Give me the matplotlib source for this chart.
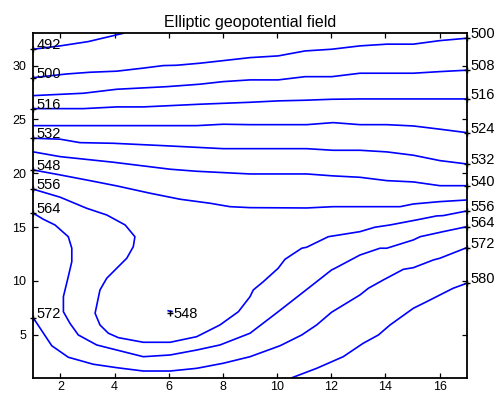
"""Elliptic geopotential field: labelled contour lines (MATLAB clabel look).

Contour vertices are read off the reference picture, one array per level.
"""

import matplotlib
matplotlib.use("Agg")
import matplotlib.pyplot as plt

plt.rcParams["font.family"] = ["Liberation Sans", "DejaVu Sans"]

# ── data: contour lines (x, y) per level ──────────────────────────────────────

c492_x = [1.00, 1.99, 3.03, 4.32]
c492_y = [31.52, 31.83, 32.23, 33.00]

c500_x = [1, 2.23, 3.09, 4.08, 5.01, 5.80, 6.29, 7.15, 8.01, 9.00, 10.04, 11.03,
          12.02, 13.06, 14.05, 15.03, 16.01, 17]
c500_y = [28.88, 29.22, 29.38, 29.48, 29.75, 30.00, 30.03, 30.22, 30.46, 30.74,
          30.90, 31.36, 31.52, 31.83, 31.99, 31.99, 32.32, 32.54]

c508_x = [1, 2.85, 4.08, 5.92, 7.15, 8.01, 9.00, 10.04, 11.03, 12.02, 13.06,
          14.05, 15.03, 16.01, 17]
c508_y = [27.21, 27.43, 27.80, 28.04, 28.27, 28.51, 28.67, 28.67, 28.97, 28.97,
          29.29, 29.29, 29.29, 29.44, 29.57]

c516_x = [1, 2.85, 4.08, 5.06, 7.15, 9.00, 10.04, 11.03, 12.02, 13.06, 17]
c516_y = [26.00, 26.00, 26.16, 26.16, 26.41, 26.59, 26.72, 26.78, 26.87, 26.90, 26.90]

c524_x = [1, 7.03, 8.01, 9.00, 11.09, 12.07, 13.06, 14.05, 15.03, 16.01, 17]
c524_y = [24.42, 24.42, 24.55, 24.51, 24.51, 24.70, 24.51, 24.51, 24.39, 24.09, 23.77]

c532_x = [1, 1.99, 2.72, 3.95, 5.80, 8.01, 9.00, 11.09, 12.07, 13.06, 14.05,
          15.03, 16.01, 17]
c532_y = [23.25, 23.16, 22.84, 22.78, 22.56, 22.28, 22.28, 22.28, 22.13, 22.13,
          21.98, 21.67, 21.17, 20.86]

c540_x = [1, 1.99, 3.95, 6.05, 7.03, 9.00, 11.09, 12.07, 13.06, 14.05, 15.03, 16.01, 17]
c540_y = [21.98, 21.54, 21.02, 20.37, 20.18, 19.93, 19.93, 19.75, 19.62, 19.31,
          19.19, 18.84, 18.84]

c548_x = [1, 1.99, 3.09, 4.08, 5.31, 6.42, 7.52, 8.26, 9.00, 11.09, 12.07, 14.54,
          15.03, 16.01, 17]
c548_y = [20.30, 19.84, 19.31, 18.82, 18.14, 17.58, 17.21, 16.89, 16.80, 16.77,
          16.89, 16.89, 17.14, 17.36, 17.51]

# tiny closed 548 contour around the local low
c548b_x = [5.98, 6.05, 6.12]
c548b_y = [7.22, 7.17, 7.15]

c556_x = [1, 1.99, 2.97, 3.71, 4.39, 4.75, 4.69, 4.45, 4.08, 3.71, 3.46, 3.28,
          3.46, 3.77, 4.14, 5.06, 6.05, 7.03, 7.89, 8.57, 9.00, 9.12, 9.49, 10.04,
          10.29, 10.91, 11.09, 11.89, 12.14, 13.06, 13.61, 14.17, 15.15, 15.89,
          16.13, 17.00]
c556_y = [18.51, 17.77, 16.74, 16.12, 15.19, 14.10, 13.17, 12.10, 11.17, 10.24,
          9.15, 6.99, 5.90, 5.13, 4.72, 4.29, 4.29, 4.81, 5.90, 7.13, 8.53, 9.15,
          9.92, 11.17, 12.00, 13.03, 13.12, 14.10, 14.20, 14.57, 14.98, 15.19,
          15.66, 16.03, 16.06, 16.49]

c564_x = [1, 1.37, 1.80, 2.29, 2.42, 2.42, 2.29, 2.11, 2.11, 2.35, 2.66, 3.34,
          4.08, 5.06, 6.05, 7.03, 7.89, 9.00, 10.04, 11.15, 12.01, 12.14, 13.06,
          13.80, 14.05, 15.03, 15.28, 16.13, 17]
c564_y = [16.28, 15.72, 15.19, 14.10, 13.03, 11.78, 10.39, 8.53, 7.13, 6.06, 4.97,
          4.04, 3.57, 2.95, 3.11, 3.57, 4.04, 5.13, 7.13, 9.31, 11.01, 11.17, 12.40,
          13.03, 13.03, 13.80, 14.10, 14.57, 15.03]

c572_x = [1, 1.68, 2.29, 3.21, 4.08, 5.06, 6.05, 7.03, 8.01, 9.00, 10.11, 10.91,
          11.46, 12.01, 13.06, 13.37, 13.92, 14.66, 15.03, 15.77, 16.01, 17]
c572_y = [6.55, 3.97, 2.90, 2.25, 1.93, 1.62, 1.62, 1.87, 2.34, 2.95, 3.97, 4.97,
          5.90, 7.08, 8.69, 9.31, 10.08, 11.07, 11.22, 11.94, 12.10, 13.08]

c580_x = [10.55, 11.46, 12.44, 13.18, 13.74, 14.17, 15.03, 15.52, 16.13, 16.50, 17]
c580_y = [1.00, 1.87, 2.95, 4.20, 4.97, 5.90, 7.45, 8.06, 8.84, 9.31, 9.77]

# ── data: clabel positions ───────────────────────────────────────────────────

label_text = ["492", "500", "516", "532", "548", "556", "564", "572",
              "500", "508", "516", "524", "532", "540", "556", "564", "572", "580",
              "548"]
label_x = [1, 1, 1, 1, 1, 1, 1, 1,
           17, 17, 17, 17, 17, 17, 17, 17, 17, 17,
           6.05]
label_y = [31.52, 28.88, 26.00, 23.25, 20.30, 18.51, 16.28, 6.55,
           32.54, 29.57, 26.90, 23.77, 20.86, 18.84, 16.49, 15.03, 13.08, 9.77,
           6.99]

x_ticks = [2, 4, 6, 8, 10, 12, 14, 16]
y_ticks = [5, 10, 15, 20, 25, 30]


def main():
    fig = plt.figure(figsize=(4.99, 3.94), dpi=100)
    ax = fig.add_axes([0.0668, 0.0414, 0.8685, 0.8741])

    lines = [
        (c492_x, c492_y), (c500_x, c500_y), (c508_x, c508_y), (c516_x, c516_y),
        (c524_x, c524_y), (c532_x, c532_y), (c540_x, c540_y), (c548_x, c548_y),
        (c548b_x, c548b_y), (c556_x, c556_y), (c564_x, c564_y), (c572_x, c572_y),
        (c580_x, c580_y),
    ]
    for xs, ys in lines:
        ax.plot(xs, ys, color="#0000ff", lw=1.2, solid_joinstyle="round")

    # "+" markers and level labels, MATLAB clabel style
    ax.plot(label_x, label_y, "+", color="black", ms=5, mew=1.0, clip_on=False, zorder=5)
    for txt, lx, ly in zip(label_text, label_x, label_y):
        dy = -3.5 if lx not in (1, 17) else 0
        ax.annotate(txt, (lx, ly), xytext=(2.5, dy), textcoords="offset points",
                    ha="left", va="baseline", fontsize=10.5, annotation_clip=False)

    ax.set_xlim(1, 17)
    ax.set_ylim(1, 33)
    ax.set_xticks(x_ticks)
    ax.set_yticks(y_ticks)
    ax.tick_params(direction="in", length=3.6, width=0.9, labelsize=9,
                   top=True, right=True)
    ax.tick_params(axis="y", pad=5)
    ax.tick_params(axis="x", pad=2.5)
    for sp in ax.spines.values():
        sp.set_linewidth(1.3)

    ax.set_title("Elliptic geopotential field", fontsize=11.5, pad=4.5)

    fig.savefig("out.png", dpi=100)
    plt.close(fig)


if __name__ == "__main__":
    main()
